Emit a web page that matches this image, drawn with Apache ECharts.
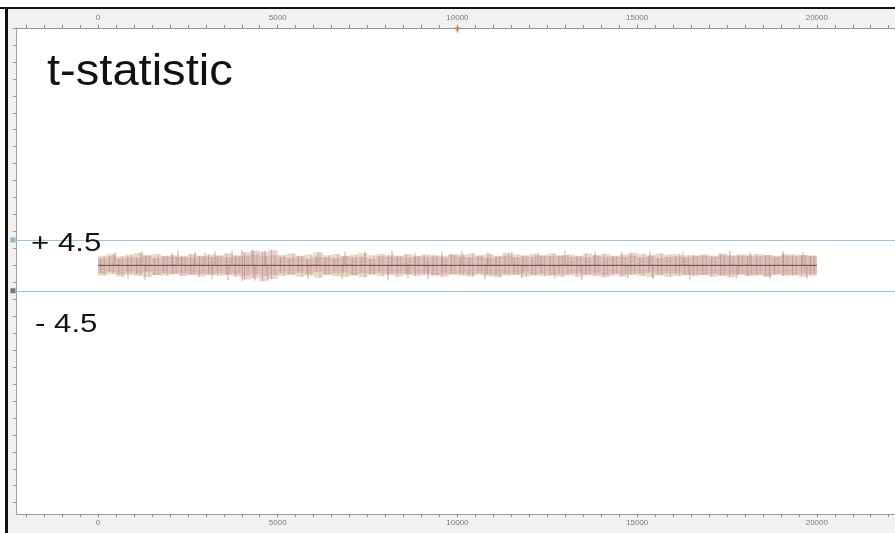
<!DOCTYPE html>
<html>
<head>
<meta charset="utf-8">
<script src="https://cdn.jsdelivr.net/npm/echarts@6/dist/echarts.min.js"></script>
<style>
html,body{margin:0;padding:0;background:#fff;}
#c{width:895px;height:533px;}
</style>
</head>
<body>
<div id="c"></div>
<script>
// ---- data ----
const xTickLabels = [0, 5000, 10000, 15000, 20000];
const binSize = 250; // samples per envelope bin (0 .. 20000)
const pinkHi = [1.3,1.6,1.2,1.5,1.4,1.7,1.3,1.6, 1.8,1.5,2.0,1.7,1.9,1.6,2.1,1.8, 2.3,2.6,2.4,2.7,
  1.5,1.3,1.6,1.2,1.5,1.4,1.3,1.6,1.4,1.5,1.2,1.6, 1.8,1.7,2.0,1.6,1.9,1.8,1.7,2.0,
  1.5,1.4,1.6,1.3,1.5,1.7,1.4,1.6,1.5,1.8,1.6,1.7, 1.9,1.7,2.1,1.8,2.0,1.7,1.9,2.2,
  1.4,1.6,1.3,1.5,1.6,1.4, 1.8,1.9,1.7,2.1,1.8,1.9,1.6,2.0,1.8,1.7,2.0,1.9,1.8,1.7];
const pinkLo = [-1.4,-1.2,-1.6,-1.3,-1.5,-1.2,-1.7,-1.4, -1.6,-1.9,-1.7,-2.0,-1.6,-1.8,-1.7,-2.0, -2.5,-2.3,-2.8,-2.4,
  -1.4,-1.6,-1.3,-1.5,-1.2,-1.6,-1.4,-1.3,-1.7,-1.4,-1.5,-1.3, -1.7,-2.0,-1.6,-1.9,-1.7,-1.8,-2.0,-1.6,
  -1.5,-1.7,-1.4,-1.6,-1.8,-1.5,-1.6,-1.4,-1.7,-1.5,-1.8,-1.6, -1.8,-2.0,-1.7,-1.9,-2.1,-1.8,-2.0,-1.7,
  -1.5,-1.3,-1.6,-1.4,-1.5,-1.7, -1.9,-1.7,-2.0,-1.8,-2.1,-1.7,-1.9,-1.8,-2.0,-1.7,-1.9,-1.8,-2.0,-1.8];
const oliveHi = [1.7,2.0,1.6,1.9,2.2,1.8,2.0,1.7, 1.5,1.7,1.4,1.6,1.5,1.8,1.4,1.6, 1.7,1.9,1.6,1.8,
  1.8,2.1,1.7,1.9,2.3,1.8,2.0,1.7,1.9,2.2,1.8,2.0, 1.5,1.6,1.4,1.7,1.5,1.6,1.4,1.8,
  1.9,2.1,1.8,2.0,1.7,2.2,1.9,1.8,2.0,1.7,2.1,1.8, 1.5,1.6,1.4,1.7,1.5,1.6,1.5,1.7,
  2.0,1.8,2.1,1.9,2.0,1.8, 1.6,1.7,1.5,1.8,1.6,1.7,1.9,1.6,1.8,1.5,1.7,1.6,1.8,1.7];
const oliveLo = [-1.8,-1.6,-2.0,-1.7,-1.9,-2.1,-1.7,-1.8, -1.5,-1.4,-1.6,-1.5,-1.7,-1.4,-1.6,-1.5, -1.8,-1.6,-1.9,-1.7,
  -1.9,-1.7,-2.0,-1.8,-2.2,-1.7,-1.9,-2.0,-1.8,-2.1,-1.7,-1.9, -1.5,-1.4,-1.6,-1.5,-1.4,-1.7,-1.5,-1.6,
  -1.8,-2.0,-1.7,-1.9,-2.1,-1.8,-1.7,-2.0,-1.8,-1.9,-1.7,-2.0, -1.5,-1.4,-1.6,-1.5,-1.7,-1.4,-1.6,-1.5,
  -1.9,-2.1,-1.8,-2.0,-1.9,-1.7, -1.6,-1.7,-1.5,-1.8,-1.6,-1.5,-1.7,-1.6,-1.8,-1.5,-1.6,-1.7,-1.5,-1.6];
// isolated peaks sticking out of the band: [sample, t]
const upSpikes = [[473,2.3],[1224,2.5],[2059,2.2],[2226,2.6],[2699,2.4],[2977,2.3],[3255,2.5],[3728,2.6],
  [4006,2.7],[4284,2.8],[4646,2.6],[6120,2.3],[6872,2.4],[7428,2.5],[8179,2.6],[8819,2.3],[9570,2.4],
  [10126,2.5],[10850,2.3],[11517,2.4],[12241,2.2],[12992,2.6],[13827,2.4],[14578,2.3],[15357,2.5],
  [16275,2.4],[17582,2.6],[18139,2.3],[19057,2.5],[19613,2.4]];
const downSpikes = [[835,-2.3],[1308,-2.5],[3171,-2.4],[3617,-2.6],[4006,-2.8],[4368,-2.7],[4729,-2.5],
  [5842,-2.3],[6788,-2.4],[8068,-2.5],[8624,-2.3],[9181,-2.4],[10766,-2.5],[11795,-2.3],[12713,-2.4],
  [13464,-2.6],[14744,-2.3],[15440,-2.4],[16469,-2.5],[17777,-2.3],[18695,-2.4],[19724,-2.3]];
const meanLine = [[0, 0], [20000, 0]];
const thresholds = [4.5, -4.5];
const thresholdLabels = ['+ 4.5', '- 4.5'];
const cursorMarker = [[10000, 41.6]];
const chartTitle = 't-statistic';

// ---- build ----
const X_MIN = -2282, X_MAX = 22175, Y_MIN = -44, Y_MAX = 42;
function bands(hi, lo) {
  return hi.map((h, i) => [i * binSize, (i + 1) * binSize, lo[i], h]);
}
const minorTicks = [];
for (let v = -2000; v <= 22000; v += 500) minorTicks.push(v);
const yTicks = [];
for (let v = -42; v <= 42; v += 3) yTicks.push(v);

function bandSeries(name, data, color, hairColor, hairPos) {
  return {
    name, type: 'custom', xAxisIndex: 0, yAxisIndex: 0, data,
    renderItem: (params, api) => {
      const x0 = api.value(0), x1 = api.value(1), lo = api.value(2), hi = api.value(3);
      const p1 = api.coord([x0, hi]);
      const p2 = api.coord([x1, lo]);
      const hx = api.coord([x0 + (x1 - x0) * hairPos, 0])[0];
      return { type: 'group', children: [
        { type: 'rect', shape: { x: p1[0], y: p1[1], width: p2[0] - p1[0], height: p2[1] - p1[1] },
          style: { fill: color } },
        { type: 'line', shape: { x1: hx, y1: p1[1], x2: hx, y2: p2[1] },
          style: { stroke: hairColor, lineWidth: 1 } }
      ] };
    },
    silent: true, z: 2
  };
}
function spikeSeries(name, data, colors) {
  return {
    name, type: 'custom', data, silent: true, z: 3,
    renderItem: (params, api) => {
      const a = api.coord([api.value(0), 0]);
      const b = api.coord([api.value(0), api.value(1)]);
      return { type: 'line', shape: { x1: a[0], y1: a[1], x2: b[0], y2: b[1] },
        style: { stroke: colors[params.dataIndex % 2], lineWidth: 1 } };
    }
  };
}

const chart = echarts.init(document.getElementById('c'), null, { renderer: 'canvas' });
const labelStyle = { show: true, customValues: xTickLabels, fontSize: 8, color: '#7a7a7a',
  fontFamily: 'Liberation Sans', formatter: v => String(v) };
const axisCommon = {
  type: 'value', min: X_MIN, max: X_MAX, splitLine: { show: false },
  axisTick: { show: true, customValues: minorTicks, length: 3, lineStyle: { color: '#8a8a8a' } }
};
chart.setOption({
  animation: false,
  backgroundColor: '#fff',
  grid: { left: 16, right: 0, top: 28, bottom: 19, show: true, backgroundColor: '#ffffff', borderWidth: 0 },
  xAxis: [
    Object.assign({}, axisCommon, { position: 'bottom',
      axisLine: { show: true, onZero: false, lineStyle: { color: '#9a9a9a' } },
      axisLabel: Object.assign({}, labelStyle, { margin: 5 }) }),
    Object.assign({}, axisCommon, { position: 'top',
      axisLine: { show: true, onZero: false, lineStyle: { color: '#7ea67e' } },
      axisLabel: Object.assign({}, labelStyle, { margin: 6 }) })
  ],
  yAxis: {
    type: 'value', min: Y_MIN, max: Y_MAX, splitLine: { show: false },
    axisLine: { show: true, onZero: false, lineStyle: { color: '#9aa4aa' } },
    axisTick: { show: true, customValues: yTicks, length: 3, lineStyle: { color: '#9a9a9a' } },
    axisLabel: { show: false }
  },
  graphic: [
    { type: 'rect', left: 0, top: 0, shape: { width: 895, height: 533 }, style: { fill: '#f1f1f1' }, z: -100, silent: true },
    { type: 'rect', left: 0, top: 0, shape: { width: 895, height: 7 }, style: { fill: '#fff' }, z: -99, silent: true },
    { type: 'rect', left: 0, top: 0, shape: { width: 5, height: 533 }, style: { fill: '#fff' }, z: -99, silent: true },
    { type: 'rect', left: 0, top: 7, shape: { width: 895, height: 2 }, style: { fill: '#111' }, z: 100, silent: true },
    { type: 'rect', left: 5, top: 7, shape: { width: 3, height: 526 }, style: { fill: '#111' }, z: 100, silent: true },
    { type: 'text', left: 47, top: 51, z: 100, scaleX: 1.07, style: { text: chartTitle, font: '44px "Liberation Sans", Arial', fill: '#111' } },
    { type: 'text', left: 31, top: 231, z: 100, scaleX: 1.2, style: { text: thresholdLabels[0], font: '26px "Liberation Sans", Arial', fill: '#111' } },
    { type: 'text', left: 35, top: 312, z: 100, scaleX: 1.2, style: { text: thresholdLabels[1], font: '26px "Liberation Sans", Arial', fill: '#111' } }
  ],
  series: [
    bandSeries('olive band', bands(oliveHi, oliveLo), 'rgba(195,182,128,0.45)', 'rgba(165,155,100,0.55)', 0.7),
    bandSeries('pink band', bands(pinkHi, pinkLo), 'rgba(206,140,155,0.38)', 'rgba(185,110,128,0.5)', 0.3),
    spikeSeries('up peaks', upSpikes, ['rgba(196,130,145,0.8)', 'rgba(175,165,110,0.8)']),
    spikeSeries('down peaks', downSpikes, ['rgba(175,165,110,0.8)', 'rgba(196,130,145,0.8)']),
    { name: 'mean', type: 'line', data: meanLine, symbol: 'none', silent: true, z: 4,
      lineStyle: { color: '#5a4a48', width: 1 } },
    { name: 'thresholds', type: 'line', data: [], silent: true,
      markLine: { silent: true, symbol: ['none', 'none'], label: { show: false },
        lineStyle: { color: '#9cc3d6', width: 1, type: 'solid' },
        data: thresholds.map(t => ({ yAxis: t })) } },
    { name: 'threshold marks', type: 'scatter', silent: true, clip: false, symbol: 'rect', symbolSize: 5,
      symbolOffset: [-3, 0], z: 6,
      data: [{ value: [X_MIN, thresholds[0]], itemStyle: { color: '#6fa5c4' } },
             { value: [X_MIN, thresholds[1]], itemStyle: { color: '#4d5a60' } }] },
    { name: 'cursor', type: 'scatter', silent: true, clip: false, symbol: 'triangle', symbolRotate: 180,
      symbolSize: 6, z: 6, data: cursorMarker, itemStyle: { color: '#d08a34' } }
  ]
});
</script>
</body>
</html>
